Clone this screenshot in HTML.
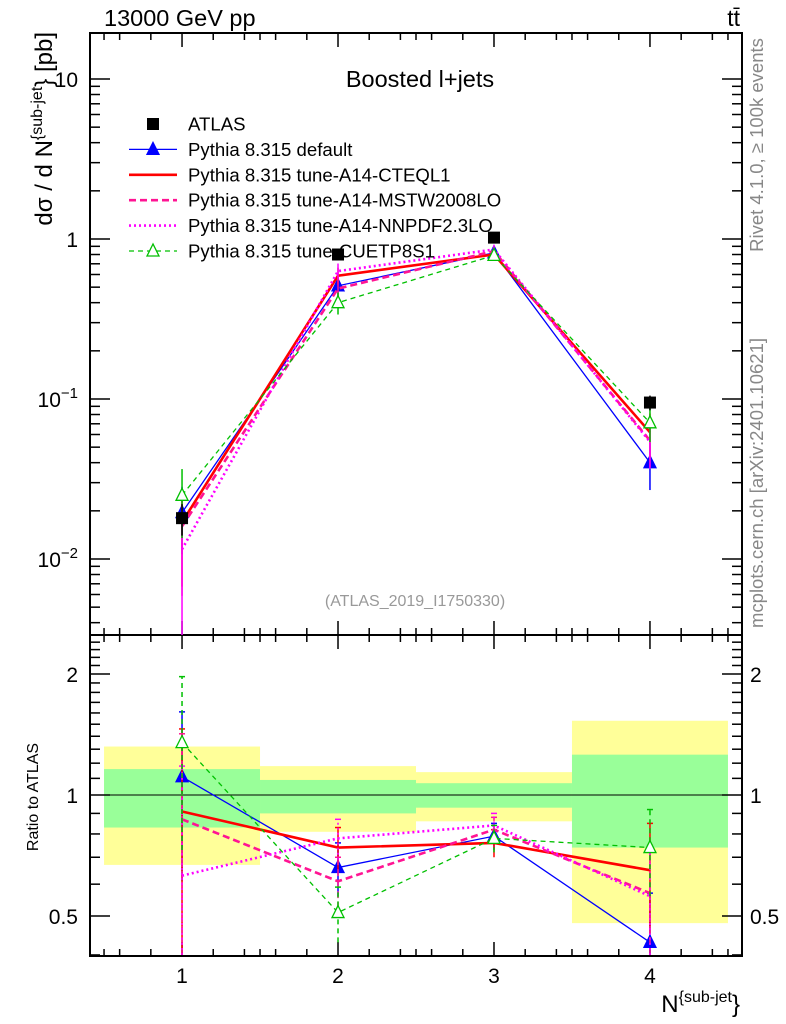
<!DOCTYPE html>
<html><head><meta charset="utf-8"><style>
body{margin:0;background:#fff;}
svg{display:block;font-family:"Liberation Sans",sans-serif;}
</style></head><body>
<svg id="c" width="786" height="1024" xmlns="http://www.w3.org/2000/svg"></svg>
<script>
const categories=[1,2,3,4];
const atlas=[0.018,0.80,1.02,0.095];
const atlasErr=[0.004,0.06,0.06,0.01];
const mainDefault=[0.0195,0.51,0.82,0.040];
const mainCTEQ=[0.0170,0.59,0.80,0.062];
const mainMSTW=[0.0160,0.49,0.84,0.055];
const mainNNPDF=[0.0115,0.63,0.86,0.054];
const mainCUETP=[0.0250,0.40,0.79,0.071];
const ratioDefault=[1.11,0.66,0.79,0.43];
const ratioCTEQ=[0.91,0.74,0.76,0.65];
const ratioMSTW=[0.87,0.61,0.82,0.57];
const ratioNNPDF=[0.63,0.78,0.84,0.56];
const ratioCUETP=[1.35,0.51,0.78,0.74];
const errDefault=[0.50,0.10,0.06,0.14];
const errCTEQ=[0.55,0.09,0.06,0.20];
const errMSTW=[0.55,0.09,0.06,0.18];
const errNNPDF=[0.55,0.09,0.06,0.18];
const errCUETP=[0.62,0.08,0.06,0.18];
const bandYellowLo=[0.67,0.81,0.86,0.48];
const bandYellowHi=[1.32,1.18,1.14,1.53];
const bandGreenLo=[0.83,0.90,0.93,0.74];
const bandGreenHi=[1.16,1.09,1.07,1.26];
const mainTicks=[10,1,0.1,0.01];
const mainTickLabels=["10","1","10^-1","10^-2"];
const ratioTicks=[2,1,0.5];
const ratioTickLabels=["2","1","0.5"];

const NS="http://www.w3.org/2000/svg";
const svg=document.getElementById('c');
function el(tag,attrs,parent){const e=document.createElementNS(NS,tag);for(const k in attrs)e.setAttribute(k,attrs[k]);(parent||svg).appendChild(e);return e;}
const L=90,R=742,MT=33,MB=635,RT=635,RB=956;
const X=v=>L+(v-0.41)/(4.59-0.41)*(R-L);
const YM=v=>79+(1-Math.log10(v))*160;
const YR=v=>795-Math.log10(v)/Math.log10(2)*121;

for(let i=0;i<categories.length;i++){
  const x0=X(categories[i]-0.5),x1=X(categories[i]+0.5);
  const y=el('rect',{x:x0,y:YR(bandYellowHi[i]),width:x1-x0,height:YR(bandYellowLo[i])-YR(bandYellowHi[i]),fill:'#ffff99'});
  
  
  const g=el('rect',{x:x0,y:YR(bandGreenHi[i]),width:x1-x0,height:YR(bandGreenLo[i])-YR(bandGreenHi[i]),fill:'#99ff99'});
  
  
}
el('line',{x1:L,x2:R,y1:YR(1),y2:YR(1),stroke:'#000','stroke-width':1});

el('rect',{x:L,y:MT,width:R-L,height:MB-MT,fill:'none',stroke:'#000','stroke-width':2,});
el('rect',{x:L,y:RT,width:R-L,height:RB-RT,fill:'none',stroke:'#000','stroke-width':2,});

for(let k=5;k<=45;k+=1){
  const v=k/10;
  const major=k%10===0;
  if(!major && k%2!==0 && k%5!==0) continue;
  const x=X(v);
  const len=major?14:7;
  [MT,RT].forEach(t=>el('line',{x1:x,x2:x,y1:t,y2:t+len,stroke:'#000','stroke-width':1.5}));
  [MB,RB].forEach(b=>el('line',{x1:x,x2:x,y1:b,y2:b-len,stroke:'#000','stroke-width':1.5}));
}
categories.forEach(c=>{const t=el('text',{x:X(c),y:983,'font-size':21,'text-anchor':'middle'});t.textContent=c;});

for(let d=-3;d<=1;d++){
  for(let m=1;m<=9;m++){
    const v=m*Math.pow(10,d);const y=YM(v);
    if(y<MT||y>MB)continue;
    const len=m===1?20:10;
    el('line',{x1:L,x2:L+len,y1:y,y2:y,stroke:'#000','stroke-width':1.5});
    el('line',{x1:R,x2:R-len,y1:y,y2:y,stroke:'#000','stroke-width':1.5});
  }
}
mainTicks.forEach((v,i)=>{
  const lab=mainTickLabels[i];const y=YM(v)+8;
  const t=el('text',{x:L-12,y:y,'font-size':21,'text-anchor':'end'});
  if(lab.indexOf('^')>=0){const p=lab.split('^');
    t.innerHTML=p[0]+'<tspan dy="-9" font-size="15">'+p[1].replace('-','−')+'</tspan>';
  } else t.textContent=lab;
});
for(let k=4;k<=25;k++){
  const v=k/10;const y=YR(v);if(y<RT||y>RB)continue;
  const major=ratioTicks.some(t=>Math.abs(t-v)<0.001);
  const len=major?20:10;
  el('line',{x1:L,x2:L+len,y1:y,y2:y,stroke:'#000','stroke-width':1.5});
  el('line',{x1:R,x2:R-len,y1:y,y2:y,stroke:'#000','stroke-width':1.5});
}
ratioTicks.forEach((v,i)=>{
  const t=el('text',{x:L-12,y:YR(v)+8,'font-size':21,'text-anchor':'end'});t.textContent=ratioTickLabels[i];
  const t2=el('text',{x:R+8,y:YR(v)+8,'font-size':21,'text-anchor':'start'});t2.textContent=ratioTickLabels[i];
});

const series=[
 {name:'default',main:mainDefault,ratio:ratioDefault,err:errDefault,color:'#0000ff',w:1.3,dash:'',marker:'tri'},
 {name:'cteql1',main:mainCTEQ,ratio:ratioCTEQ,err:errCTEQ,color:'#ff0000',w:2.6,dash:'',marker:''},
 {name:'mstw2008lo',main:mainMSTW,ratio:ratioMSTW,err:errMSTW,color:'#ff1493',w:2.6,dash:'7,4',marker:''},
 {name:'nnpdf23lo',main:mainNNPDF,ratio:ratioNNPDF,err:errNNPDF,color:'#ff00ff',w:2.6,dash:'2,3',marker:''},
 {name:'cuetp8s1',main:mainCUETP,ratio:ratioCUETP,err:errCUETP,color:'#00c000',w:1.3,dash:'5,4',marker:'otri'}
];
function tri(x,y,c,open,p){el('polygon',{points:`${x},${y-7} ${x-6},${y+5} ${x+6},${y+5}`,fill:open?'#fff':c,stroke:c,'stroke-width':1.3},p);}
series.forEach(s=>{
  const g=el('g',{});
  
  
  const pm=categories.map((c,i)=>X(c)+','+YM(s.main[i])).join(' ');
  el('polyline',{points:pm,fill:'none',stroke:s.color,'stroke-width':s.w,'stroke-dasharray':s.dash},g);
  const pr=categories.map((c,i)=>X(c)+','+YR(s.ratio[i])).join(' ');
  el('polyline',{points:pr,fill:'none',stroke:s.color,'stroke-width':s.w,'stroke-dasharray':s.dash},g);
  categories.forEach((c,i)=>{
    const x=X(c);
    const lo=Math.max(s.ratio[i]-s.err[i],0.4),hi=Math.min(s.ratio[i]+s.err[i],2.5);
    el('line',{x1:x,x2:x,y1:Math.min(YR(lo),RB),y2:YR(hi),stroke:s.color,'stroke-width':1.5,'stroke-dasharray':s.dash},g);
    el('line',{x1:x-3,x2:x+3,y1:YR(hi),y2:YR(hi),stroke:s.color,'stroke-width':1.5},g);
    const rel=s.err[i]/s.ratio[i];
    const mlo=s.main[i]*Math.max(1-rel,0.15),mhi=s.main[i]*(1+rel);
    el('line',{x1:x,x2:x,y1:Math.min(YM(mlo),MB),y2:YM(mhi),stroke:s.color,'stroke-width':1.5},g);
    if(s.marker){tri(x,YM(s.main[i]),s.color,s.marker==='otri',g);tri(x,YR(s.ratio[i]),s.color,s.marker==='otri',g);}
  });
});
categories.forEach((c,i)=>{
  const x=X(c),y=YM(atlas[i]);
  el('line',{x1:x,x2:x,y1:YM(atlas[i]-atlasErr[i]),y2:YM(atlas[i]+atlasErr[i]),stroke:'#000','stroke-width':1.5});
  const r=el('rect',{x:x-6,y:y-6,width:12,height:12,fill:'#000'});
  
  
});

const leg=[['ATLAS','#000','',0,'sq'],['Pythia 8.315 default','#0000ff','',1.3,'tri'],['Pythia 8.315 tune-A14-CTEQL1','#ff0000','',2.6,''],['Pythia 8.315 tune-A14-MSTW2008LO','#ff1493','7,4',2.6,''],['Pythia 8.315 tune-A14-NNPDF2.3LO','#ff00ff','2,3',2.6,''],['Pythia 8.315 tune-CUETP8S1','#00c000','5,4',1.3,'otri']];
leg.forEach((l,i)=>{
  const y=124+i*25.4;
  const g=el('g',{});
  
  
  if(l[4]==='sq') el('rect',{x:147,y:y-6,width:12,height:12,fill:'#000'},g);
  else{el('line',{x1:129,x2:177,y1:y,y2:y,stroke:l[1],'stroke-width':l[3],'stroke-dasharray':l[2]},g);
    if(l[4])tri(153,y,l[1],l[4]==='otri',g);}
  const t=el('text',{x:188,y:y+6.5,'font-size':18.6},g);t.textContent=l[0];
});

function txt(x,y,s,attrs,name){const t=el('text',Object.assign({x:x,y:y},attrs));t.textContent=s;return t;}
txt(104,26,'13000 GeV pp',{'font-size':23.5},'energy-label');
txt(740,26,'tt\u0304',{'font-size':23,'text-anchor':'end'},'process-label');
txt(420,87,'Boosted l+jets',{'font-size':23.5,'text-anchor':'middle'},'plot-title');
txt(415,606,'(ATLAS_2019_I1750330)',{'font-size':16,'text-anchor':'middle',fill:'#999'},'analysis-id');
txt(0,0,'Rivet 4.1.0, ≥ 100k events',{'font-size':18.5,fill:'#888','text-anchor':'middle',transform:'translate(763,145) rotate(-90)'},'rivet-label');
txt(0,0,'mcplots.cern.ch [arXiv:2401.10621]',{'font-size':18.5,fill:'#888','text-anchor':'middle',transform:'translate(763,483) rotate(-90)'},'mcplots-label');
const yt=el('text',{'font-size':24,'text-anchor':'end',transform:'translate(52,32) rotate(-90)'});
yt.innerHTML='dσ / d N<tspan dy="-10" font-size="16">{sub-jet</tspan><tspan dy="10">} [pb]</tspan>';


txt(0,0,'Ratio to ATLAS',{'font-size':16,'text-anchor':'middle',transform:'translate(38,797) rotate(-90)'},'ratio-axis-title');
const xt=el('text',{x:740,y:1012,'font-size':24,'text-anchor':'end'});
xt.innerHTML='N<tspan dy="-10" font-size="16">{sub-jet</tspan><tspan dy="10">}</tspan>';


</script>
</body></html>
